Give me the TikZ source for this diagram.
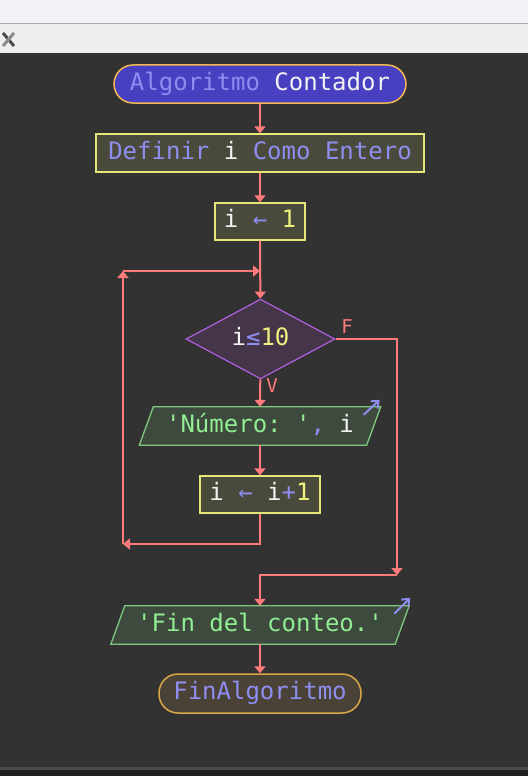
\documentclass[tikz,border=0pt]{standalone}
\usepackage{fontspec}
\setmonofont{DejaVu Sans Mono}
\usetikzlibrary{arrows.meta,shapes.geometric,calc}

\definecolor{canvas}{HTML}{323232}
\definecolor{barTop}{HTML}{F4F1F6}
\definecolor{barRule}{HTML}{A9A9A9}
\definecolor{barTool}{HTML}{EFEFEF}
\definecolor{foot}{HTML}{1F1F1F}
\definecolor{footRule}{HTML}{4A4A4A}
\definecolor{wire}{HTML}{FF7B7B}
\definecolor{kw}{HTML}{8E8EF0}
\definecolor{idf}{HTML}{F2F2F2}
\definecolor{num}{HTML}{F0F07E}
\definecolor{str}{HTML}{92EE92}
\definecolor{termFill}{HTML}{4840C0}
\definecolor{termLine}{HTML}{F0B850}
\definecolor{endFill}{HTML}{4A4236}
\definecolor{endLine}{HTML}{D8A848}
\definecolor{procFill}{HTML}{4A4A3C}
\definecolor{procLine}{HTML}{E6E676}
\definecolor{decFill}{HTML}{453548}
\definecolor{decLine}{HTML}{B060E0}
\definecolor{ioFill}{HTML}{3D4A3D}
\definecolor{ioLine}{HTML}{80C880}

\pgfdeclarelayer{backdrop}
\pgfdeclarelayer{shapes}
\pgfsetlayers{backdrop,shapes,main}

\newcommand{\codefont}{\ttfamily\fontsize{24}{24}\selectfont}

\tikzset{
  box/.style={inner sep=0pt, font=\codefont, text height=17pt, text depth=5pt},
  terminal/.style={box, rectangle, rounded corners=19pt, line width=1.5pt},
  process/.style={box, rectangle, draw=procLine, fill=procFill, line width=1.3pt},
  decision/.style={box, diamond, draw=decLine, fill=decFill, line width=1.2pt},
  iotext/.style={box, rectangle},
  iobox/.style={draw=ioLine, fill=ioFill, line width=1.3pt},
  conn/.style={draw=wire, line width=2pt, -{Triangle[length=7pt,width=11pt]}},
  tag/.style={text=wire, font=\ttfamily\fontsize{19}{19}\selectfont, inner sep=0pt},
  outmark/.style={draw=kw, line width=2pt, -{Straight Barb[length=6pt,width=10pt]}},
}

\begin{document}
\begin{tikzpicture}[x=1pt,y=-1pt]
\useasboundingbox (0,0) rectangle (528,776);

% window chrome and canvas
\begin{pgfonlayer}{backdrop}
  \fill[barTop] (0,0) rectangle (528,23);
  \fill[barRule] (0,23) rectangle (528,24.5);
  \fill[barTool] (0,24.5) rectangle (528,53.5);
  \fill[canvas] (0,53.5) rectangle (528,767);
  \fill[footRule] (0,767) rectangle (528,769.5);
  \fill[foot] (0,769.5) rectangle (528,776);
  \draw[line width=3pt, color=black!70] (3,33) -- (14,46);
  \draw[line width=3pt, color=black!45] (14,33) -- (3,46);
\end{pgfonlayer}

% nodes
\node[terminal, draw=termLine, fill=termFill, minimum width=292pt, minimum height=38pt]
  (start) at (260,84) {\color{kw}Algoritmo \color{idf}Contador};
\node[process, minimum width=328pt, minimum height=38pt]
  (decl) at (260,153) {\color{kw}Definir \color{idf}i \color{kw}Como Entero};
\node[process, minimum width=90pt, minimum height=37pt]
  (init) at (260,221.5) {\color{idf}i \color{kw}\textleftarrow{}\ \color{num}1};
\node[decision, minimum width=149pt, minimum height=74pt]
  (cond) at (260.5,339) {\color{idf}i\color{kw}≤\color{num}10};
\node[iotext, minimum width=241pt, minimum height=38pt]
  (show) at (260,426) {\color{str}'Número: '\color{kw},\ \color{idf}i};
\node[process, minimum width=120pt, minimum height=37pt]
  (incr) at (260,494.5) {\color{idf}i \color{kw}\textleftarrow{}\ \color{idf}i\color{kw}+\color{num}1};
\node[iotext, minimum width=298pt, minimum height=38pt]
  (bye) at (260,625) {\color{str}'Fin del conteo.'};
\node[terminal, draw=endLine, fill=endFill, minimum width=202pt, minimum height=39pt]
  (stop) at (260,693.5) {\color{kw}FinAlgoritmo};

% slanted output boxes
\begin{pgfonlayer}{shapes}
  \path[iobox] ($(show.north west)+(14,0)$) -- (show.north east)
    -- ($(show.south east)+(-14,0)$) -- (show.south west) -- cycle;
  \path[iobox] ($(bye.north west)+(14,0)$) -- (bye.north east)
    -- ($(bye.south east)+(-14,0)$) -- (bye.south west) -- cycle;
\end{pgfonlayer}
\draw[outmark] ($(show.north east)+(-17,8)$) -- ($(show.north east)+(-1,-7)$);
\draw[outmark] ($(bye.north east)+(-15,8)$) -- ($(bye.north east)+(1,-8)$);

% branch labels
\node[tag] (tagF) at (347,327) {F};
\node[tag] (tagV) at (272,386) {V};

% junction points
\coordinate (loopIn) at (260,271);
\coordinate (loopTop) at (123,271);
\coordinate (loopBot) at (123,544);
\coordinate (exitDown) at (397,575);

% connectors
\draw[conn] (start) -- (decl);
\draw[conn] (decl) -- (init);
\draw[conn] (init) -- (cond);
\draw[conn] (cond) -- (show);
\draw[conn] (show) -- (incr);
\draw[conn] (incr.south) |- (loopBot);
\draw[conn] (loopBot) -- (loopTop);
\draw[conn] (loopTop) -- (loopIn);
\draw[conn] (cond.east) -| (exitDown);
\draw[conn] (exitDown) -| (bye.north);
\draw[conn] (bye) -- (stop);
\end{tikzpicture}
\end{document}
